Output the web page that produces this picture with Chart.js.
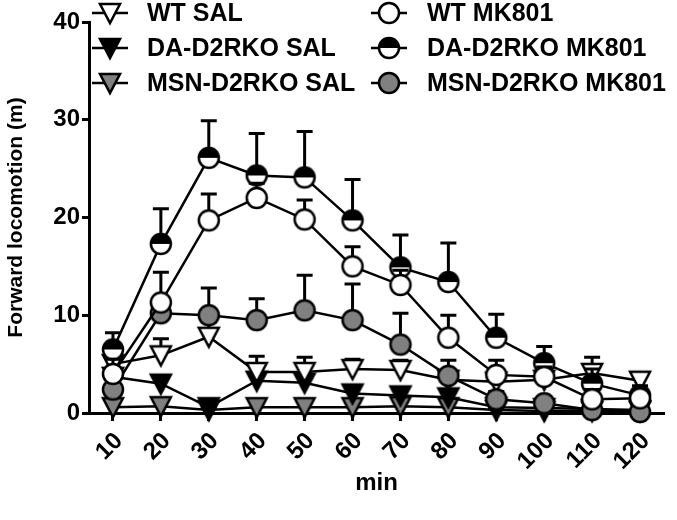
<!DOCTYPE html>
<html>
<head>
<meta charset="utf-8">
<script src="https://cdn.jsdelivr.net/npm/chart.js@4.4.1/dist/chart.umd.min.js"></script>
<style>
  body { margin: 0; background: #fff; }
  #wrap { width: 677px; height: 520px; }
</style>
</head>
<body>
<div id="wrap"><canvas id="graphloco" width="677" height="520"></canvas></div>
<script>
//---------dados

var minutos = ['10', '20', '30', '40', '50', '60', '70', '80', '90', '100', '110', '120'];
var yTicks = [0, 10, 20, 30, 40];

var wtSal     = [5.0, 5.9, 7.8, 4.2, 4.2, 4.5, 4.4, 3.4, 3.2, 3.4, 4.1, 3.3];
var wtSalErr  = [1.0, 1.7, 1.5, 1.6, 1.5, 1.0, 1.0, 1.0, 1.0, 1.0, 1.6, 0.8];
var daSal     = [3.7, 3.0, 0.6, 3.3, 3.1, 2.0, 1.8, 1.6, 0.6, 0.5, 0.4, 0.3];
var daSalErr  = [0.6, 0.6, 0.3, 0.5, 0.5, 0.5, 0.6, 0.5, 0.3, 0.3, 0.3, 0.2];
var msnSal    = [0.6, 0.7, 0.3, 0.6, 0.6, 0.6, 0.7, 0.6, 0.3, 0.2, 0.2, 0.2];
var msnSalErr = [0.5, 0.5, 0.2, 0.6, 0.6, 0.5, 0.5, 0.5, 0.2, 0.2, 0.2, 0.2];
var wtMk      = [4.0, 11.3, 19.7, 22.0, 19.8, 15.0, 13.1, 7.7, 3.9, 3.7, 1.4, 1.5];
var wtMkErr   = [1.5, 3.1, 2.7, 1.5, 2.0, 2.0, 1.5, 2.3, 1.5, 1.0, 1.0, 0.8];
var daMk      = [6.5, 17.3, 26.1, 24.3, 24.1, 19.7, 14.9, 13.4, 7.7, 5.1, 3.0, 1.8];
var daMkErr   = [1.7, 3.6, 3.8, 4.3, 4.7, 4.2, 3.3, 4.0, 2.4, 1.7, 1.5, 1.0];
var msnMk     = [2.4, 10.2, 10.0, 9.5, 10.5, 9.5, 7.0, 3.8, 1.4, 1.0, 0.3, 0.1];
var msnMkErr  = [1.0, 1.5, 2.8, 2.2, 3.6, 3.7, 3.2, 1.6, 0.8, 0.6, 0.5, 0.3];

var fonte = "'Liberation Sans', Arial, sans-serif";
var cinza = '#808080';

//---------marcadores

function marcador(forma, cor) {
  var c = document.createElement('canvas');
  c.width = 26;
  c.height = 26;
  var g = c.getContext('2d');
  g.lineWidth = 2.5;
  g.strokeStyle = '#000';
  if (forma === 'tri') {
    g.beginPath();
    g.moveTo(3, 4);
    g.lineTo(23, 4);
    g.lineTo(13, 23);
    g.closePath();
    g.fillStyle = cor;
    g.fill();
    g.stroke();
  } else if (forma === 'meio') {
    g.beginPath();
    g.arc(13, 13, 10, 0, 2 * Math.PI);
    g.fillStyle = '#fff';
    g.fill();
    g.beginPath();
    g.arc(13, 13, 10, Math.PI, 2 * Math.PI);
    g.closePath();
    g.fillStyle = '#000';
    g.fill();
    g.beginPath();
    g.arc(13, 13, 10, 0, 2 * Math.PI);
    g.stroke();
  } else {
    g.beginPath();
    g.arc(13, 13, 10, 0, 2 * Math.PI);
    g.fillStyle = cor;
    g.fill();
    g.stroke();
  }
  return c;
}

var mWtSal = marcador('tri', '#fff');
var mDaSal = marcador('tri', '#000');
var mMsnSal = marcador('tri', cinza);
var mWtMk = marcador('circ', '#fff');
var mDaMk = marcador('meio');
var mMsnMk = marcador('circ', cinza);

function serie(label, data, err, m, ordem) {
  return {
    label: label,
    data: data,
    err: err,
    pointStyle: m,
    pointRadius: 10,
    pointHoverRadius: 10,
    borderColor: '#000',
    borderWidth: 2.5,
    tension: 0,
    fill: false,
    clip: false,
    order: ordem
  };
}

//---------barras de erro (SEM, só para cima)

var barrasErro = {
  id: 'barrasErro',
  beforeDatasetDraw: function (chart, args) {
    var ds = chart.data.datasets[args.index];
    var y = chart.scales.y;
    var ctx = chart.ctx;
    ctx.save();
    ctx.strokeStyle = '#000';
    ctx.lineWidth = 3;
    args.meta.data.forEach(function (pt, j) {
      var topo = y.getPixelForValue(ds.data[j] + ds.err[j]);
      ctx.beginPath();
      ctx.moveTo(pt.x, pt.y);
      ctx.lineTo(pt.x, topo);
      ctx.moveTo(pt.x - 8, topo);
      ctx.lineTo(pt.x + 8, topo);
      ctx.stroke();
    });
    ctx.restore();
  }
};

//---------legenda em duas colunas

var legenda = {
  id: 'legenda',
  afterDraw: function (chart) {
    var ctx = chart.ctx;
    var itens = [
      [mWtSal, 'WT SAL', 110, 147, 13],
      [mDaSal, 'DA-D2RKO SAL', 110, 147, 48],
      [mMsnSal, 'MSN-D2RKO SAL', 110, 147, 83],
      [mWtMk, 'WT MK801', 389, 427, 13],
      [mDaMk, 'DA-D2RKO MK801', 389, 427, 48],
      [mMsnMk, 'MSN-D2RKO MK801', 389, 427, 83]
    ];
    ctx.save();
    itens.forEach(function (it) {
      ctx.strokeStyle = '#000';
      ctx.lineWidth = 2.5;
      ctx.beginPath();
      ctx.moveTo(it[2] - 18, it[4]);
      ctx.lineTo(it[2] + 18, it[4]);
      ctx.stroke();
      ctx.drawImage(it[0], it[2] - 13, it[4] - 13);
      ctx.fillStyle = '#000';
      ctx.font = 'bold 25px ' + fonte;
      ctx.textBaseline = 'middle';
      ctx.textAlign = 'left';
      ctx.fillText(it[1], it[3], it[4] + 1);
    });
    ctx.restore();
  }
};

//---------gráfico

var ctx = document.getElementById('graphloco');

new Chart(ctx, {
  type: 'line',
  data: {
    labels: minutos,
    datasets: [
      serie('WT MK801', wtMk, wtMkErr, mWtMk, 0),
      serie('DA-D2RKO MK801', daMk, daMkErr, mDaMk, 1),
      serie('MSN-D2RKO MK801', msnMk, msnMkErr, mMsnMk, 2),
      serie('WT SAL', wtSal, wtSalErr, mWtSal, 3),
      serie('DA-D2RKO SAL', daSal, daSalErr, mDaSal, 4),
      serie('MSN-D2RKO SAL', msnSal, msnSalErr, mMsnSal, 5)
    ]
  },
  options: {
    responsive: false,
    animation: false,
    layout: {
      padding: { top: 22, right: 13, bottom: 18, left: 0 }
    },
    plugins: {
      legend: { display: false },
      tooltip: { enabled: false }
    },
    scales: {
      x: {
        type: 'category',
        offset: true,
        grid: {
          display: true,
          drawOnChartArea: false,
          offset: false,
          tickLength: 8,
          tickColor: '#000',
          tickWidth: 3
        },
        border: { display: true, color: '#000', width: 3 },
        ticks: {
          color: '#000',
          font: { family: fonte, size: 24, weight: 'bold' },
          minRotation: 45,
          maxRotation: 45,
          labelOffset: 6,
          padding: 6
        },
        title: {
          display: true,
          text: 'min',
          color: '#000',
          font: { family: fonte, size: 24, weight: 'bold' },
          padding: { top: 4, bottom: 4 }
        },
        afterFit: function (s) { s.height = 89; }
      },
      y: {
        min: 0,
        max: 40,
        afterBuildTicks: function (s) {
          s.ticks = yTicks.map(function (v) { return { value: v }; });
        },
        grid: {
          display: true,
          drawOnChartArea: false,
          tickLength: 7,
          tickColor: '#000',
          tickWidth: 3
        },
        border: { display: true, color: '#000', width: 3 },
        ticks: {
          color: '#000',
          font: { family: fonte, size: 24, weight: 'bold' },
          padding: 2
        },
        title: {
          display: true,
          text: 'Forward locomotion (m)',
          color: '#000',
          font: { family: fonte, size: 21, weight: 'bold' },
          padding: { top: 4, bottom: 4 }
        },
        afterFit: function (s) { s.width = 89; }
      }
    }
  },
  plugins: [barrasErro, legenda]
});
</script>
</body>
</html>
